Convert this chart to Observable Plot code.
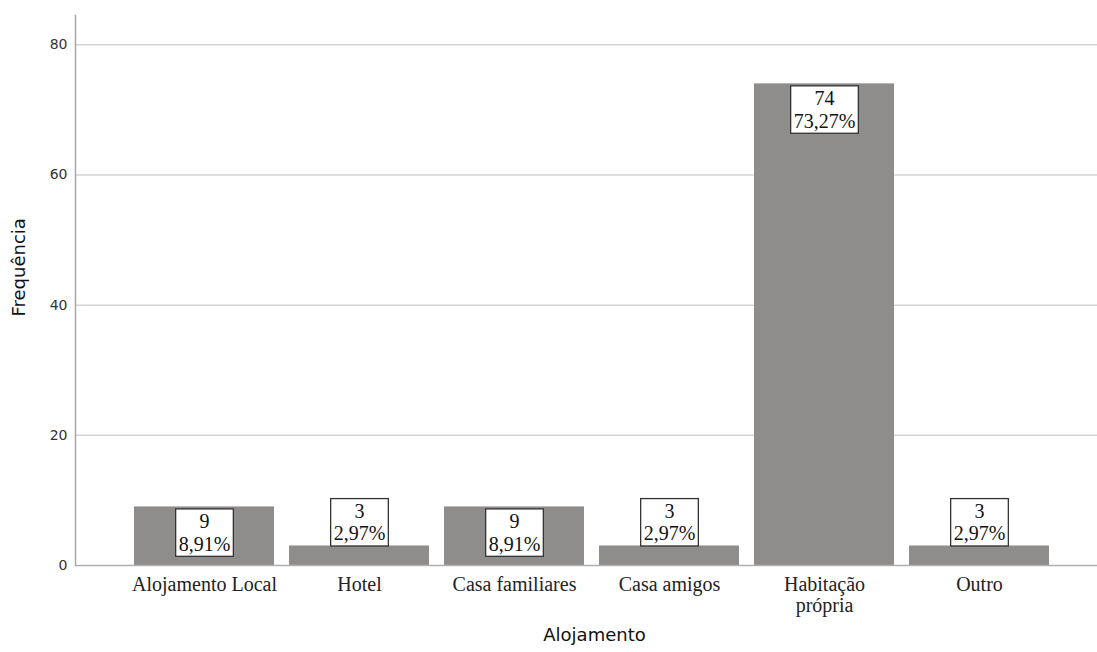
<!DOCTYPE html>
<html>
<head>
<meta charset="utf-8">
<script src="https://cdn.jsdelivr.net/npm/d3@7"></script>
<script src="https://cdn.jsdelivr.net/npm/@observablehq/plot@0.6"></script>
<style>
  html, body { margin: 0; padding: 0; background: #fff; }
  #chart svg { display: block; }
</style>
</head>
<body>
<div id="chart"></div>
<script>
const categories = ["Alojamento Local", "Hotel", "Casa familiares", "Casa amigos", "Habitação própria", "Outro"];
const tickLabels = ["Alojamento Local", "Hotel", "Casa familiares", "Casa amigos", "Habitação\nprópria", "Outro"];
const counts = [9, 3, 9, 3, 74, 3];
const percents = ["8,91%", "2,97%", "8,91%", "2,97%", "73,27%", "2,97%"];
const yTicks = [0, 20, 40, 60, 80];

const data = categories.map((c, i) => ({
  cat: c, count: counts[i], label: counts[i] + "\n" + percents[i]
}));
const labelOf = new Map(categories.map((c, i) => [c, tickLabels[i]]));

const serif = "'Liberation Serif', 'Times New Roman', serif";
const sans = "'DejaVu Sans', Arial, sans-serif";

const plot = Plot.plot({
  width: 1097,
  height: 652,
  marginLeft: 75,
  marginRight: 0,
  marginTop: 15,
  marginBottom: 87,
  style: { fontFamily: sans, background: "#fff", color: "#222" },
  x: { domain: categories, range: [134, 1049], paddingInner: 0.1, paddingOuter: 0 },
  y: { domain: [0, 84.5] },
  marks: [
    Plot.ruleY(yTicks.filter(d => d > 0), { stroke: "#d4d4d4", strokeWidth: 1.5 }),
    Plot.barY(data, { x: "cat", y: "count", fill: "#8f8c8c" }),
    Plot.frame({ anchor: "left", stroke: "#a8a8a8", strokeWidth: 1.5 }),
    Plot.frame({ anchor: "bottom", stroke: "#b0b0b0", strokeWidth: 1.5 }),
    Plot.axisY({ ticks: yTicks, tickSize: 0, tickPadding: 8, fontSize: 14, label: null, fill: "#333" }),
    Plot.axisX({ tickSize: 0, tickPadding: 11, fontSize: 20, fontFamily: serif, lineHeight: 1.05,
                 tickFormat: d => labelOf.get(d), label: null, fill: "#222" }),
    Plot.text(data.filter(d => d.count > 5), {
      x: "cat", y: "count", text: "label", lineAnchor: "top", dy: 5.6,
      fontFamily: serif, fontSize: 20, lineHeight: 1.12, fill: "#111", ariaDescription: "valuebox"
    }),
    Plot.text(data.filter(d => d.count <= 5), {
      x: "cat", y: "count", text: "label", lineAnchor: "bottom", dy: -5.5,
      fontFamily: serif, fontSize: 20, lineHeight: 1.12, fill: "#111", ariaDescription: "valuebox"
    }),
    Plot.text(["Alojamento"], { frameAnchor: "bottom", dx: 8, dy: 75, fontSize: 18, fill: "#111" }),
    Plot.text(["Frequência"], { frameAnchor: "left", dx: -56, dy: 26, rotate: -90, fontSize: 18, fill: "#111" })
  ]
});

document.getElementById("chart").appendChild(plot);

// draw white boxes with dark borders behind the value labels
plot.querySelectorAll('g[aria-description="valuebox"]').forEach(g => {
  g.querySelectorAll("text").forEach(t => {
    const b = t.getBBox();
    const r = document.createElementNS("http://www.w3.org/2000/svg", "rect");
    r.setAttribute("x", b.x - 3);
    r.setAttribute("y", b.y - 1.5);
    r.setAttribute("width", b.width + 6);
    r.setAttribute("height", b.height + 3);
    r.setAttribute("fill", "#fff");
    r.setAttribute("stroke", "#333");
    r.setAttribute("stroke-width", 1.3);
    const tr = t.getAttribute("transform");
    if (tr) r.setAttribute("transform", tr);
    g.insertBefore(r, t);
  });
});
</script>
</body>
</html>
